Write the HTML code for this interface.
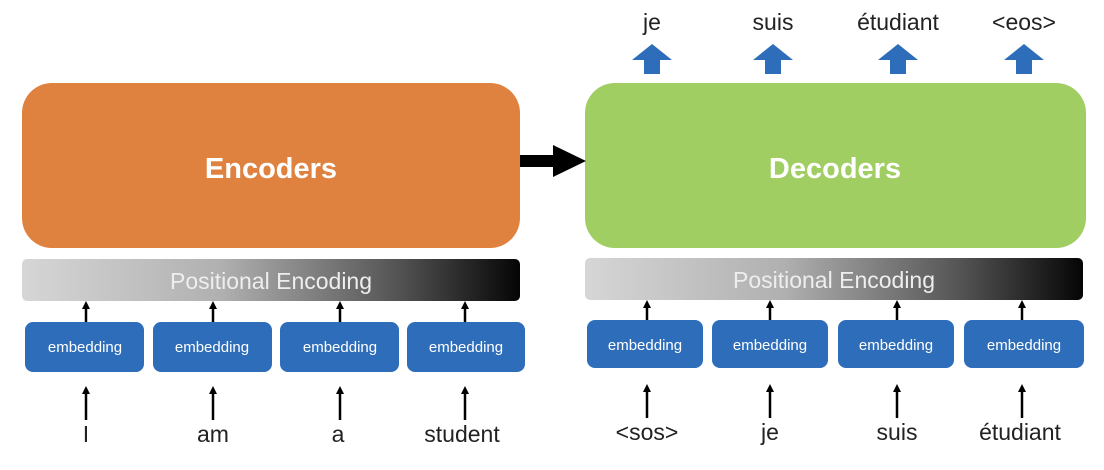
<!DOCTYPE html>
<html><head><meta charset="utf-8"><style>
html,body{margin:0;padding:0;background:#fff;}
svg{display:block;font-family:"Liberation Sans","DejaVu Sans",sans-serif;}
</style></head><body>
<svg width="1104" height="470" viewBox="0 0 1104 470" xmlns="http://www.w3.org/2000/svg">
<defs>
<linearGradient id="g" x1="0" x2="1" y1="0" y2="0">
<stop offset="0" stop-color="#d6d6d6"/><stop offset="0.4" stop-color="#b0b0b0"/><stop offset="0.75" stop-color="#555"/><stop offset="1" stop-color="#050505"/>
</linearGradient>
<marker id="ah" markerWidth="8" markerHeight="8" refX="4" refY="4" orient="auto" markerUnits="userSpaceOnUse"><path d="M0,0 L8,4 L0,8 z" fill="#000"/></marker>
</defs>
<!-- main boxes -->
<rect x="22" y="83" width="498" height="165" rx="30" fill="#E0823F"/>
<text x="271" y="178" text-anchor="middle" font-size="29" font-weight="bold" fill="#fff">Encoders</text>
<rect x="585" y="83" width="501" height="165" rx="30" fill="#A0CE63"/>
<text x="835" y="178" text-anchor="middle" font-size="29" font-weight="bold" fill="#fff">Decoders</text>
<!-- enc->dec arrow -->
<rect x="520" y="155" width="36" height="12" fill="#000"/>
<path d="M553,145 L586,161 L553,177 z" fill="#000"/>
<!-- positional bars -->
<rect x="22" y="259" width="498" height="42" rx="5" fill="url(#g)"/>
<text x="271" y="289" text-anchor="middle" font-size="23" fill="#eee">Positional Encoding</text>
<rect x="585" y="258" width="498" height="42" rx="5" fill="url(#g)"/>
<text x="834" y="288" text-anchor="middle" font-size="23" fill="#eee">Positional Encoding</text>
<g fill="#2E6DB9">
<rect x="25" y="322" width="119" height="50" rx="8"/>
<rect x="153" y="322" width="119" height="50" rx="8"/>
<rect x="280" y="322" width="119" height="50" rx="8"/>
<rect x="407" y="322" width="118" height="50" rx="8"/>
<rect x="587" y="320" width="116" height="48" rx="8"/>
<rect x="712" y="320" width="116" height="48" rx="8"/>
<rect x="838" y="320" width="116" height="48" rx="8"/>
<rect x="964" y="320" width="120" height="48" rx="8"/>
</g>
<g font-size="15" fill="#fff" text-anchor="middle">
<text x="85" y="352">embedding</text><text x="212" y="352">embedding</text><text x="340" y="352">embedding</text><text x="466" y="352">embedding</text>
<text x="645" y="350">embedding</text><text x="770" y="350">embedding</text><text x="896" y="350">embedding</text><text x="1024" y="350">embedding</text>
</g>
<!-- small arrows -->
<g stroke="#000" stroke-width="2.5" marker-end="url(#ah)">
<line x1="86" y1="322" x2="86" y2="305"/><line x1="213" y1="322" x2="213" y2="305"/><line x1="340" y1="322" x2="340" y2="305"/><line x1="465" y1="322" x2="465" y2="305"/>
<line x1="647" y1="320" x2="647" y2="304"/><line x1="770" y1="320" x2="770" y2="304"/><line x1="897" y1="320" x2="897" y2="304"/><line x1="1022" y1="320" x2="1022" y2="304"/>
<line x1="86" y1="420" x2="86" y2="390"/><line x1="213" y1="420" x2="213" y2="390"/><line x1="340" y1="420" x2="340" y2="390"/><line x1="465" y1="420" x2="465" y2="390"/>
<line x1="647" y1="418" x2="647" y2="388"/><line x1="770" y1="418" x2="770" y2="388"/><line x1="897" y1="418" x2="897" y2="388"/><line x1="1022" y1="418" x2="1022" y2="388"/>
</g>
<g font-size="23" fill="#222" text-anchor="middle">
<text x="86" y="442">I</text><text x="213" y="442">am</text><text x="338" y="442">a</text><text x="462" y="442">student</text>
<text x="647" y="440">&lt;sos&gt;</text><text x="770" y="440">je</text><text x="897" y="440">suis</text><text x="1020" y="440">étudiant</text>
<text x="652" y="30">je</text><text x="773" y="30">suis</text><text x="898" y="30">étudiant</text><text x="1024" y="30">&lt;eos&gt;</text>
</g>
<!-- blue up arrows -->
<g fill="#2E6DB9">
<path d="M632,60 L652,44 L672,60 L660,60 L660,74 L644,74 L644,60 z"/>
<path d="M753,60 L773,44 L793,60 L781,60 L781,74 L765,74 L765,60 z"/>
<path d="M878,60 L898,44 L918,60 L906,60 L906,74 L890,74 L890,60 z"/>
<path d="M1004,60 L1024,44 L1044,60 L1032,60 L1032,74 L1016,74 L1016,60 z"/>
</g>
</svg>
</body></html>
